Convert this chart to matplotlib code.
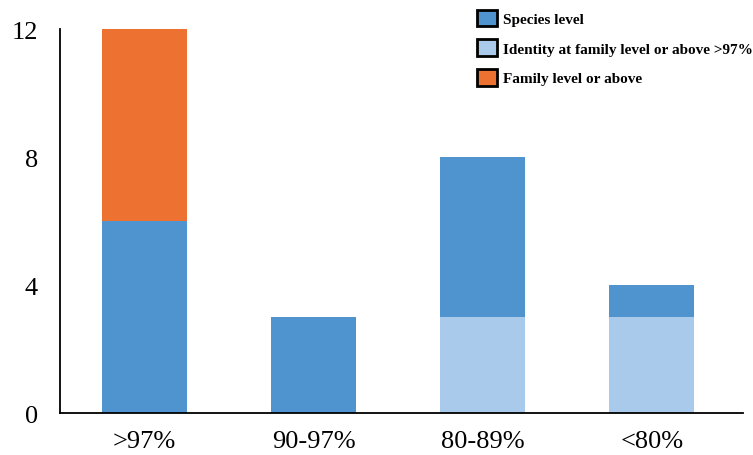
import numpy as np
import matplotlib.pyplot as plt
from matplotlib.patches import Patch

BLUE = '#4F94CF'
LIGHT_BLUE = '#A9CAEB'
ORANGE = '#ED7131'

plt.rcParams.update({
    'font.family': 'Liberation Serif',
    'axes.spines.top': False,
    'axes.spines.right': False,
})

categories = ['>97%', '90-97%', '80-89%', '<80%']
identity_family = [0, 0, 3, 3]
species = [6, 3, 5, 1]
family = [6, 0, 0, 0]

fig = plt.figure(figsize=(7.53, 4.56), dpi=100)
ax = fig.add_axes([0.0797, 0.092, 0.907, 0.842])

x = np.arange(len(categories))
bw = 0.5
ax.bar(x, identity_family, bw, color=LIGHT_BLUE)
ax.bar(x, species, bw, bottom=identity_family, color=BLUE)
bottom2 = [a + b for a, b in zip(identity_family, species)]
ax.bar(x, family, bw, bottom=bottom2, color=ORANGE)

ax.set_xlim(-0.5, 3.54)
ax.set_ylim(0, 12)
ax.set_yticks([0, 4, 8, 12])
ax.set_xticks(x)
ax.set_xticklabels(categories)
ax.tick_params(axis='both', length=0, labelsize=19)
ax.tick_params(axis='y', pad=16)
ax.tick_params(axis='x', pad=12)
for s in ['left', 'bottom']:
    ax.spines[s].set_linewidth(1.3)

handles = [
    Patch(facecolor=BLUE, edgecolor='black', linewidth=2, label='Species level'),
    Patch(facecolor=LIGHT_BLUE, edgecolor='black', linewidth=2,
          label='Identity at family level or above >97%'),
    Patch(facecolor=ORANGE, edgecolor='black', linewidth=2, label='Family level or above'),
]
fig.legend(handles=handles, loc='upper left', bbox_to_anchor=(0.626, 0.99),
           frameon=False, prop={'family': 'Liberation Serif', 'weight': 'bold', 'size': 11},
           handlelength=1.3, handleheight=1.3, handletextpad=0.4, labelspacing=0.85,
           borderaxespad=0)

plt.savefig('out.png', dpi=100)
